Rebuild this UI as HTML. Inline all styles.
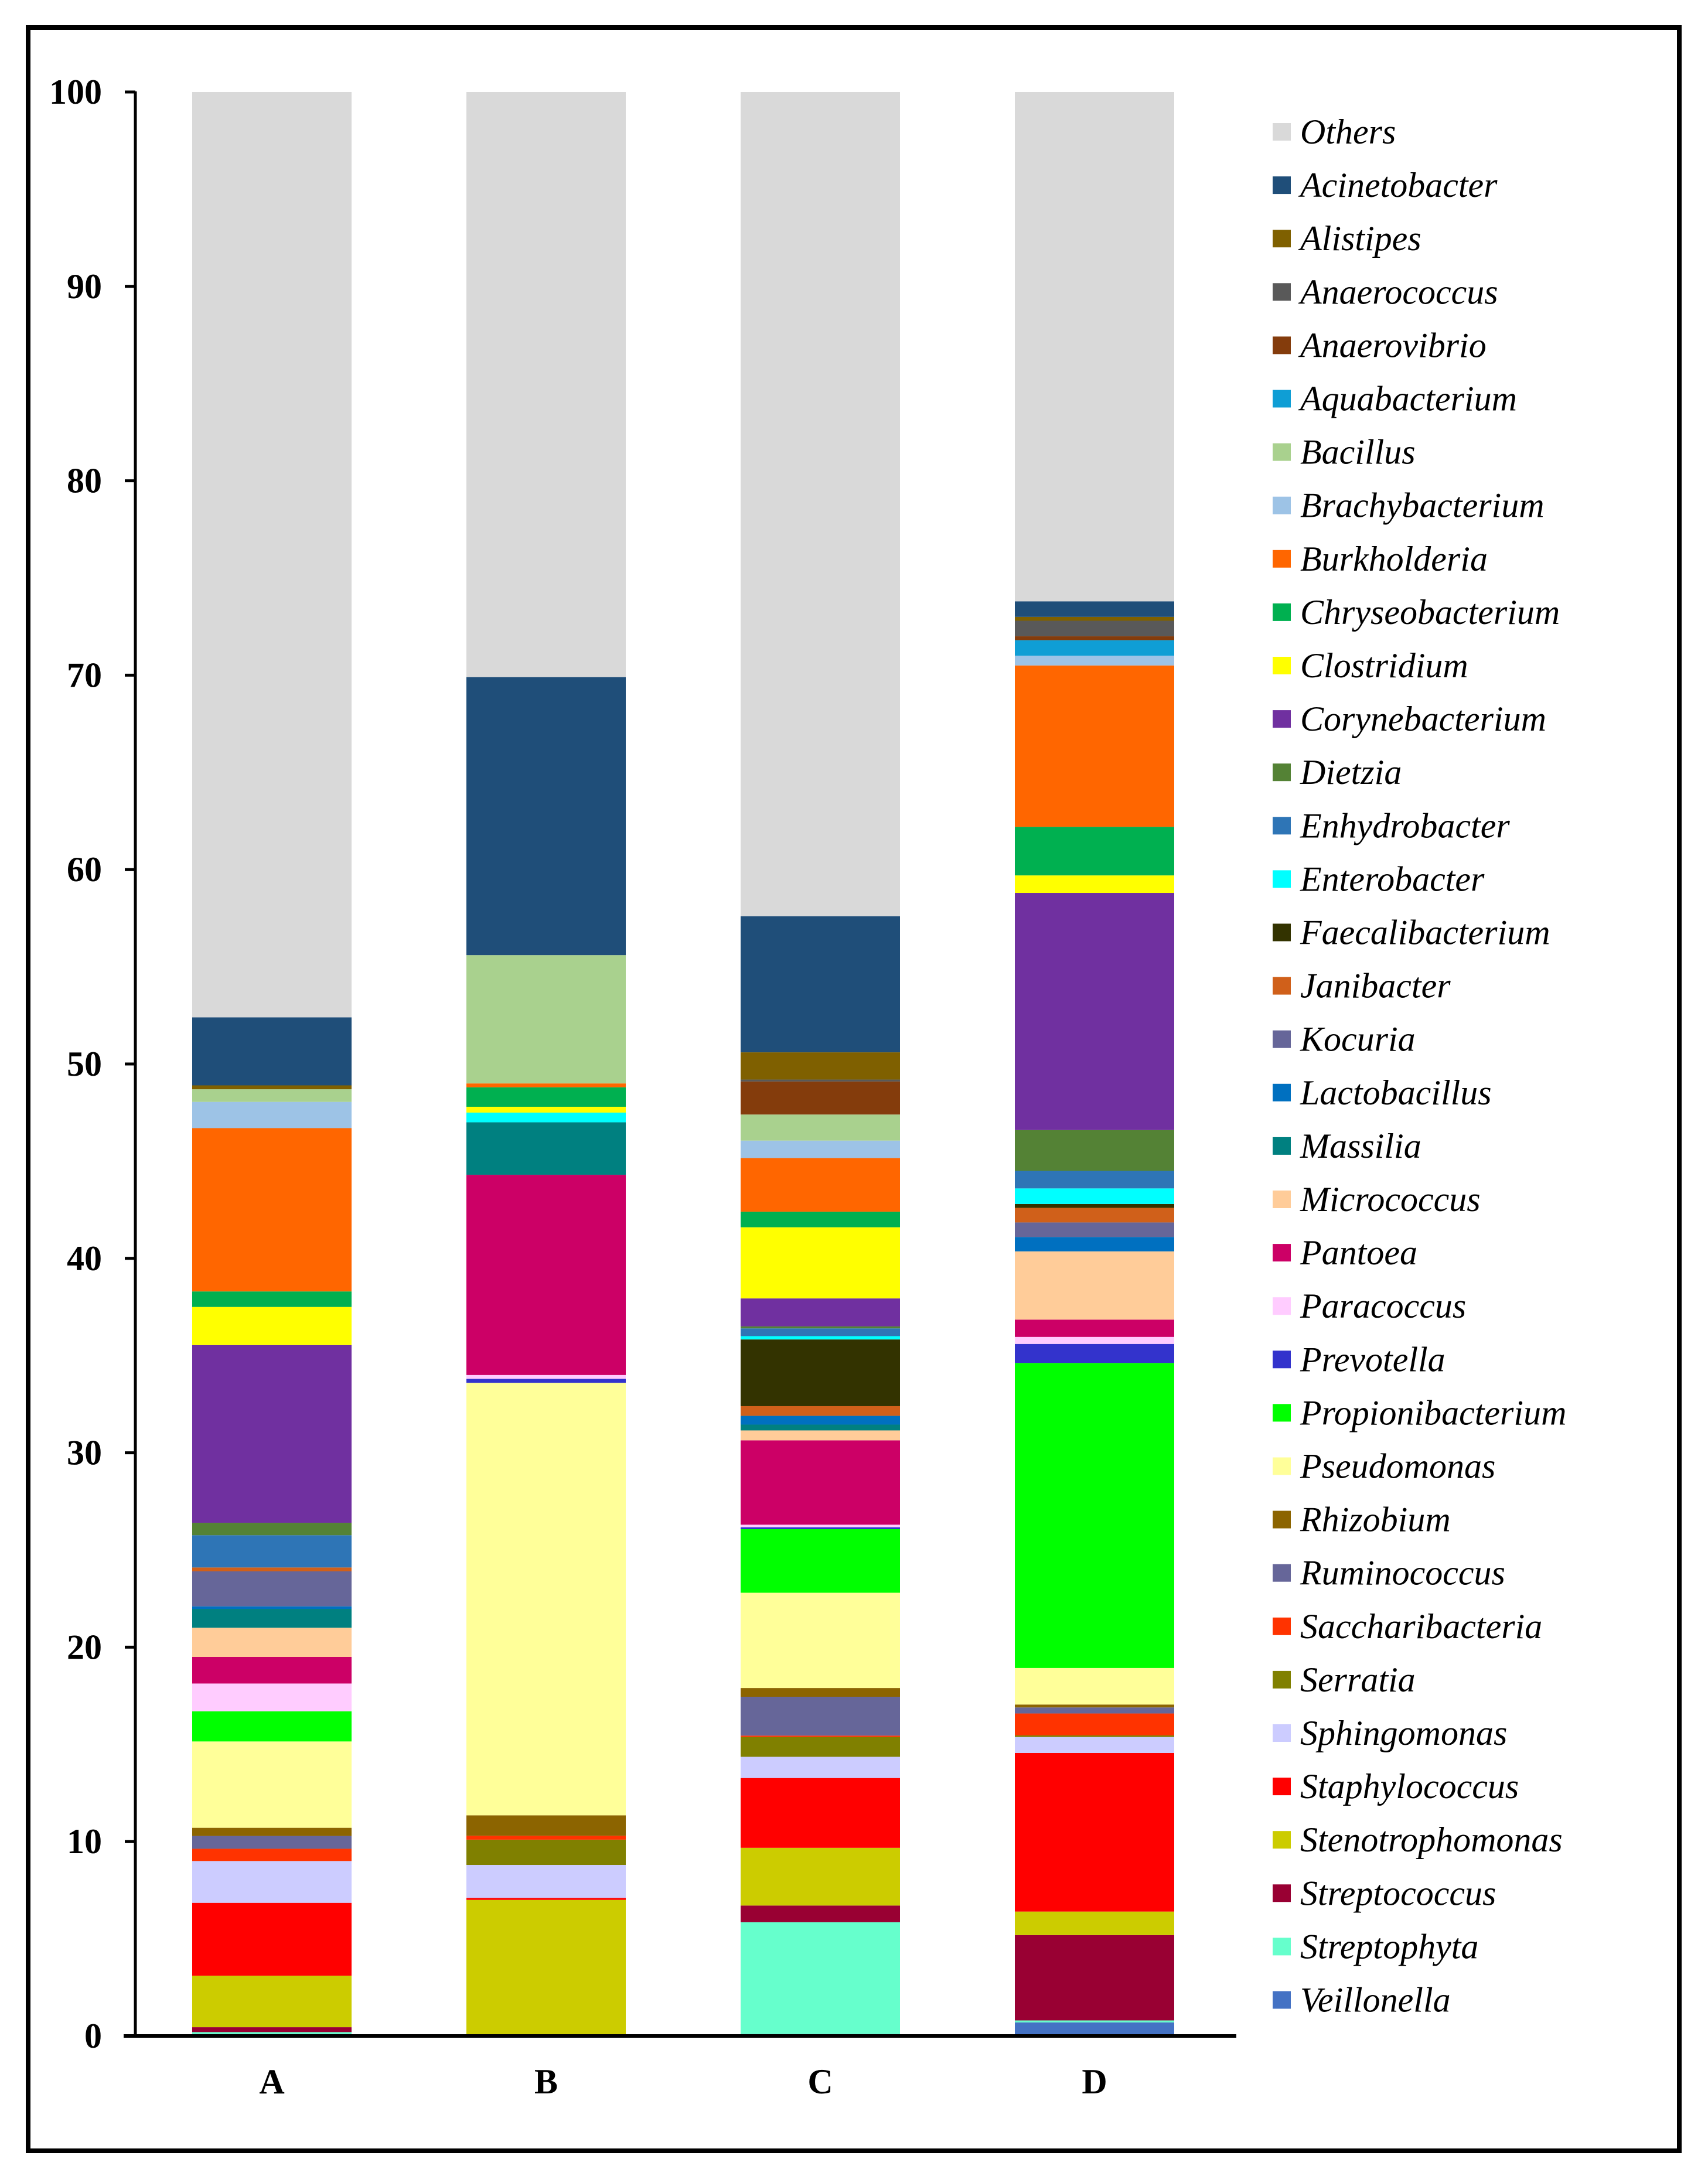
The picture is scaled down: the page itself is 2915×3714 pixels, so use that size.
<!DOCTYPE html>
<html><head><meta charset="utf-8"><style>
html,body{margin:0;padding:0;background:#fff;}
svg{display:block;}
text{font-family:"Liberation Serif",serif;}
</style></head><body>
<svg id="chart" width="2915" height="3714" viewBox="0 0 2915 3714" xmlns="http://www.w3.org/2000/svg">
<rect x="48" y="47" width="2818" height="3624" fill="none" stroke="#000" stroke-width="8"/>
<g id="bars"></g>
<g id="axes"></g>
<g id="legend"></g>
</svg>
<script>
const categories = ["A","B","C","D"];
const genera = ["Veillonella","Streptophyta","Streptococcus","Stenotrophomonas","Staphylococcus","Sphingomonas","Serratia","Saccharibacteria","Ruminococcus","Rhizobium","Pseudomonas","Propionibacterium","Prevotella","Paracoccus","Pantoea","Micrococcus","Massilia","Lactobacillus","Kocuria","Janibacter","Faecalibacterium","Enterobacter","Enhydrobacter","Dietzia","Corynebacterium","Clostridium","Chryseobacterium","Burkholderia","Brachybacterium","Bacillus","Aquabacterium","Anaerovibrio","Anaerococcus","Alistipes","Acinetobacter","Others"];
const colors = ["#4472c4","#66ffcc","#990033","#cccc00","#ff0000","#ccccff","#808000","#ff3300","#666699","#8c6400","#ffff99","#00ff00","#3333cc","#ffccff","#cc0066","#ffcc99","#008080","#0070c0","#666699","#d0601a","#333300","#00ffff","#2e75b6","#548235","#7030a0","#ffff00","#00b050","#ff6600","#9dc3e6","#a9d18e","#0f9ed5","#843c0c","#595959","#7f6000","#1f4e79","#d9d9d9"];
const valuesA = [0.1,0.1,0.25,2.65,3.75,2.15,0,0.63,0.66,0.42,4.44,1.55,0,1.43,1.37,1.5,0.97,0.13,1.8,0.2,0,0,1.66,0.64,9.14,1.96,0.8,8.4,1.35,0.65,0,0,0,0.2,3.5,47.6];
const valuesB = [0,0,0,7.0,0.1,1.7,1.3,0.2,0,1.05,22.25,0,0.2,0.2,10.3,0,2.7,0,0,0,0,0.5,0,0,0,0.3,1.0,0.2,0,6.6,0,0,0,0,14.3,30.1];
const valuesC = [0.1,5.75,0.86,2.97,3.59,1.09,1.02,0.07,2.0,0.45,4.9,3.27,0.1,0.13,4.34,0.51,0.3,0.45,0,0.5,3.43,0.17,0.4,0.1,1.44,3.66,0.8,2.76,0.9,1.34,0,1.7,0.1,1.4,7.0,42.4];
const valuesD = [0.7,0.1,4.39,1.21,8.16,0.82,0.08,1.13,0.31,0.15,1.88,15.69,0.98,0.36,0.89,3.51,0,0.74,0.75,0.75,0.2,0.8,0.9,2.1,12.2,0.9,2.5,8.3,0.5,0,0.8,0.2,0.8,0.2,0.8,26.2];
const seriesValues = [valuesA,valuesB,valuesC,valuesD];
const yTicks = [0,10,20,30,40,50,60,70,80,90,100];

const NS = "http://www.w3.org/2000/svg";
const plotTop = 157, plotBottom = 3475, axisX = 231, axisEnd = 2110;
const barW = 272, firstCenter = 464, step = 468;
function yScale(v){ return plotBottom - (v/100)*(plotBottom-plotTop); }
function xCenter(i){ return firstCenter + i*step; }
function mk(tag, attrs){ const e = document.createElementNS(NS, tag); for (const k in attrs) e.setAttribute(k, attrs[k]); return e; }

const barsG = document.getElementById("bars");
seriesValues.forEach((vals, ci) => {
  let cum = 0;
  const g = mk("g", {});
  
  
  vals.forEach((v, gi) => {
    if (v <= 0) { cum += v; return; }
    const y0 = yScale(cum), y1 = yScale(cum + v);
    const r = mk("rect", {x: xCenter(ci) - barW/2, y: y1, width: barW, height: Math.max(y0 - y1, 0.5), fill: colors[gi]});
    
    
    g.appendChild(r);
    cum += v;
  });
  barsG.appendChild(g);
});

const axesG = document.getElementById("axes");
const yl = mk("line", {x1: axisX, y1: plotTop-1, x2: axisX, y2: plotBottom, stroke: "#000", "stroke-width": 5});


axesG.appendChild(yl);
const xl = mk("line", {x1: axisX-20, y1: plotBottom, x2: axisEnd, y2: plotBottom, stroke: "#000", "stroke-width": 6});


axesG.appendChild(xl);
yTicks.forEach(t => {
  const y = yScale(t);
  const tk = mk("line", {x1: axisX-18, y1: y, x2: axisX, y2: y, stroke: "#000", "stroke-width": 5});
  
  
  axesG.appendChild(tk);
  const tx = mk("text", {x: 174, y: y + 20, "text-anchor": "end", "font-size": 60, "font-weight": "bold", fill: "#000"});
  tx.textContent = t;
  
  
  axesG.appendChild(tx);
});
categories.forEach((c, i) => {
  const tx = mk("text", {x: xCenter(i), y: 3573, "text-anchor": "middle", "font-size": 60, "font-weight": "bold", fill: "#000"});
  tx.textContent = c;
  
  
  axesG.appendChild(tx);
});

const legG = document.getElementById("legend");
const legendOrder = genera.slice().reverse();
legendOrder.forEach((name, i) => {
  const gi = genera.indexOf(name);
  const cy = 225 + i*91.1;
  const item = mk("g", {});
  
  
  const sw = mk("rect", {x: 2172, y: cy - 15, width: 31, height: 30, fill: colors[gi]});
  
  
  const tx = mk("text", {x: 2219, y: cy + 20, "font-size": 60, "font-style": "italic", fill: "#000"});
  tx.textContent = name;
  
  
  item.appendChild(sw); item.appendChild(tx);
  legG.appendChild(item);
});
</script>
</body></html>
